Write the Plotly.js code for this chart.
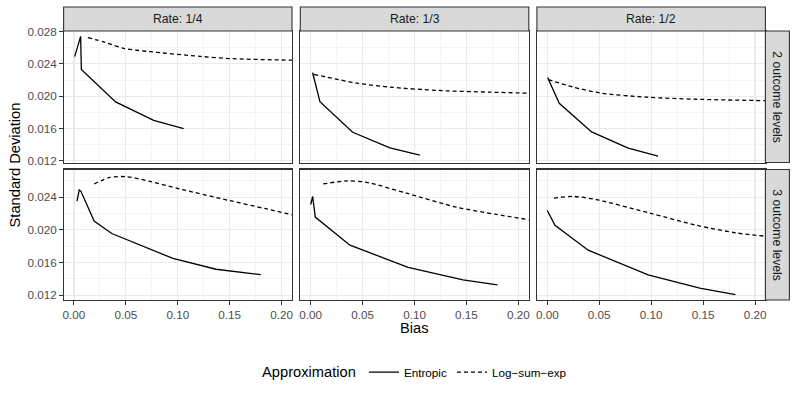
<!DOCTYPE html>
<html>
<head>
<meta charset="utf-8">
<script src="https://cdn.plot.ly/plotly-3.0.1.min.js"></script>
<style>
  html, body { margin: 0; padding: 0; background: #fff; }
  #myDiv { width: 797px; height: 399px; }
</style>
</head>
<body>
<div id="myDiv"></div>
<script>
var rates = ['Rate: 1/4', 'Rate: 1/3', 'Rate: 1/2'];
var levels = ['2 outcome levels', '3 outcome levels'];

// 2 outcome levels
var ent2_q4_x = [0.0007, 0.0064, 0.0071, 0.0401, 0.0768, 0.1056];
var ent2_q4_y = [0.0249, 0.0274, 0.0233, 0.0193, 0.0170, 0.0160];
var lse2_q4_x = [0.0134, 0.030, 0.048, 0.0736, 0.1216, 0.150, 0.210];
var lse2_q4_y = [0.02725, 0.02665, 0.02592, 0.0255, 0.02492, 0.02465, 0.02445];

var ent2_q3_x = [0.003, 0.0019, 0.0089, 0.0404, 0.0763, 0.1051];
var ent2_q3_y = [0.0222, 0.0229, 0.01933, 0.01554, 0.01362, 0.0127];
var lse2_q3_x = [0.0032, 0.0442, 0.0763, 0.1244, 0.1724, 0.210];
var lse2_q3_y = [0.0227, 0.02162, 0.02112, 0.0207, 0.0205, 0.02037];

var ent2_q2_x = [0.0003, 0.0115, 0.0427, 0.0779, 0.1067];
var ent2_q2_y = [0.0223, 0.01912, 0.01558, 0.01358, 0.01258];
var lse2_q2_x = [0.001, 0.025, 0.0507, 0.0956, 0.1437, 0.210];
var lse2_q2_y = [0.02204, 0.02113, 0.02040, 0.01988, 0.01962, 0.01945];

// 3 outcome levels
var ent3_q4_x = [0.0029, 0.0051, 0.0067, 0.0194, 0.0364, 0.0634, 0.0953, 0.1368, 0.1799];
var ent3_q4_y = [0.02351, 0.0249, 0.02473, 0.02108, 0.01955, 0.01812, 0.0165, 0.01517, 0.01451];
var lse3_q4_x = [0.0194, 0.0347, 0.0507, 0.073, 0.1017, 0.1496, 0.1847, 0.210];
var lse3_q4_y = [0.02563, 0.02643, 0.02652, 0.02595, 0.02502, 0.0236, 0.02259, 0.02185];

var ent3_q3_x = [0.0, 0.0019, 0.0044, 0.0378, 0.0938, 0.1467, 0.1798];
var ent3_q3_y = [0.02311, 0.02409, 0.02157, 0.01812, 0.01541, 0.01387, 0.01326];
var lse3_q3_x = [0.0121, 0.0346, 0.0538, 0.0923, 0.1404, 0.1788, 0.210];
var lse3_q3_y = [0.02563, 0.02600, 0.02583, 0.02449, 0.02278, 0.02189, 0.02125];

var ent3_q2_x = [0.0, 0.0074, 0.0394, 0.0971, 0.1468, 0.1811];
var ent3_q2_y = [0.02238, 0.02056, 0.01751, 0.01447, 0.01285, 0.01207];
var lse3_q2_x = [0.0064, 0.025, 0.0475, 0.0988, 0.1437, 0.1821, 0.210];
var lse3_q2_y = [0.02390, 0.02410, 0.0237, 0.02205, 0.02056, 0.01962, 0.01922];

var xTicks = [0, 0.05, 0.10, 0.15, 0.20];
var yTicksTop = [0.012, 0.016, 0.020, 0.024, 0.028];
var yTicksBottom = [0.012, 0.016, 0.020, 0.024];

var panels = [
  [[ent2_q4_x, ent2_q4_y, lse2_q4_x, lse2_q4_y],
   [ent2_q3_x, ent2_q3_y, lse2_q3_x, lse2_q3_y],
   [ent2_q2_x, ent2_q2_y, lse2_q2_x, lse2_q2_y]],
  [[ent3_q4_x, ent3_q4_y, lse3_q4_x, lse3_q4_y],
   [ent3_q3_x, ent3_q3_y, lse3_q3_x, lse3_q3_y],
   [ent3_q2_x, ent3_q2_y, lse3_q2_x, lse3_q2_y]]
];

var W = 797, H = 399;
var colPx = [[63.6, 292], [300.3, 528.8], [536.9, 765.4]];
var rowPx = [[31, 162.5], [169.5, 300]];
var yRanges = [[0.0118, 0.02806], [0.0114, 0.0274]];
var font = 'Liberation Sans, Arial, sans-serif';

var data = [];
var layout = {
  width: W, height: H,
  margin: {l: 0, r: 0, t: 0, b: 0, autoexpand: false},
  paper_bgcolor: '#fff', plot_bgcolor: '#fff',
  font: {family: font, color: '#4D4D4D', size: 11.7},
  showlegend: true,
  legend: {
    orientation: 'h', x: 0.522, xanchor: 'center', y: 1 - 372.7 / H, yanchor: 'middle',
    title: {text: 'Approximation', side: 'left', font: {size: 14.7, color: '#000'}},
    font: {size: 11.7, color: '#000'}, itemwidth: 30, tracegroupgap: 0
  },
  shapes: [], annotations: []
};

for (var r = 0; r < 2; r++) {
  for (var c = 0; c < 3; c++) {
    var k = r * 3 + c + 1;
    var xa = 'x' + (k === 1 ? '' : k), ya = 'y' + (k === 1 ? '' : k);
    var p = panels[r][c];
    data.push({x: p[0], y: p[1], xaxis: xa, yaxis: ya, mode: 'lines', name: 'Entropic',
      legendgroup: 'ent', showlegend: k === 1, line: {color: '#000', width: 1.3}});
    data.push({x: p[2], y: p[3], xaxis: xa, yaxis: ya, mode: 'lines', name: 'Log\u2212sum\u2212exp',
      legendgroup: 'lse', showlegend: k === 1,
      line: {color: '#000', width: 1.3, dash: '4px,3px', shape: 'spline', smoothing: 0.8}});

    layout['xaxis' + (k === 1 ? '' : k)] = {
      domain: [colPx[c][0] / W, colPx[c][1] / W], anchor: ya,
      range: [-0.01, 0.21], tickvals: xTicks, tickformat: '.2f',
      showticklabels: r === 1, ticks: r === 1 ? 'outside' : '', ticklen: 3.5, tickcolor: '#333',
      showgrid: true, gridcolor: '#EBEBEB', gridwidth: 1.1,
      minor: {dtick: 0.025, tick0: 0, showgrid: true, gridcolor: '#EBEBEB', gridwidth: 0.55, ticks: ''},
      showline: true, mirror: true, linecolor: '#333', linewidth: 1.1, zeroline: false,
      tickfont: {size: 11.7, color: '#4D4D4D'}
    };
    layout['yaxis' + (k === 1 ? '' : k)] = {
      domain: [1 - rowPx[r][1] / H, 1 - rowPx[r][0] / H], anchor: xa,
      range: yRanges[r], tickvals: r === 0 ? yTicksTop : yTicksBottom, tickformat: '.3f',
      showticklabels: c === 0, ticks: c === 0 ? 'outside' : '', ticklen: 3.5, tickcolor: '#333',
      showgrid: true, gridcolor: '#EBEBEB', gridwidth: 1.1,
      minor: {dtick: 0.002, tick0: 0, showgrid: true, gridcolor: '#EBEBEB', gridwidth: 0.55, ticks: ''},
      showline: true, mirror: true, linecolor: '#333', linewidth: 1.1, zeroline: false,
      tickfont: {size: 11.7, color: '#4D4D4D'}
    };
  }
}

// top strips
for (var c2 = 0; c2 < 3; c2++) {
  layout.shapes.push({type: 'rect', xref: 'paper', yref: 'paper',
    x0: colPx[c2][0] / W, x1: colPx[c2][1] / W, y0: 1 - 31 / H, y1: 1 - 7 / H,
    fillcolor: '#D9D9D9', line: {color: '#333', width: 1.1}, layer: 'above'});
  layout.annotations.push({xref: 'paper', yref: 'paper', showarrow: false,
    x: (colPx[c2][0] + colPx[c2][1]) / 2 / W, y: 1 - 19 / H, text: rates[c2],
    font: {size: 12.2, color: '#1A1A1A'}, xanchor: 'center', yanchor: 'middle'});
}
// right strips
for (var r2 = 0; r2 < 2; r2++) {
  layout.shapes.push({type: 'rect', xref: 'paper', yref: 'paper',
    x0: 765.4 / W, x1: 789.4 / W, y0: 1 - rowPx[r2][1] / H, y1: 1 - rowPx[r2][0] / H,
    fillcolor: '#D9D9D9', line: {color: '#333', width: 1.1}, layer: 'above'});
  layout.annotations.push({xref: 'paper', yref: 'paper', showarrow: false,
    x: 777.4 / W, y: 1 - (rowPx[r2][0] + rowPx[r2][1]) / 2 / H, text: levels[r2], textangle: 90,
    font: {size: 12.2, color: '#1A1A1A'}, xanchor: 'center', yanchor: 'middle'});
}
// axis titles
layout.annotations.push({xref: 'paper', yref: 'paper', showarrow: false,
  x: 414.5 / W, y: 1 - 328 / H, text: 'Bias', font: {size: 14.7, color: '#000'},
  xanchor: 'center', yanchor: 'middle'});
layout.annotations.push({xref: 'paper', yref: 'paper', showarrow: false,
  x: 14 / W, y: 1 - 165.5 / H, text: 'Standard Deviation', textangle: -90,
  font: {size: 14.7, color: '#000'}, xanchor: 'center', yanchor: 'middle'});

Plotly.newPlot('myDiv', data, layout, {staticPlot: true});
</script>
</body>
</html>
